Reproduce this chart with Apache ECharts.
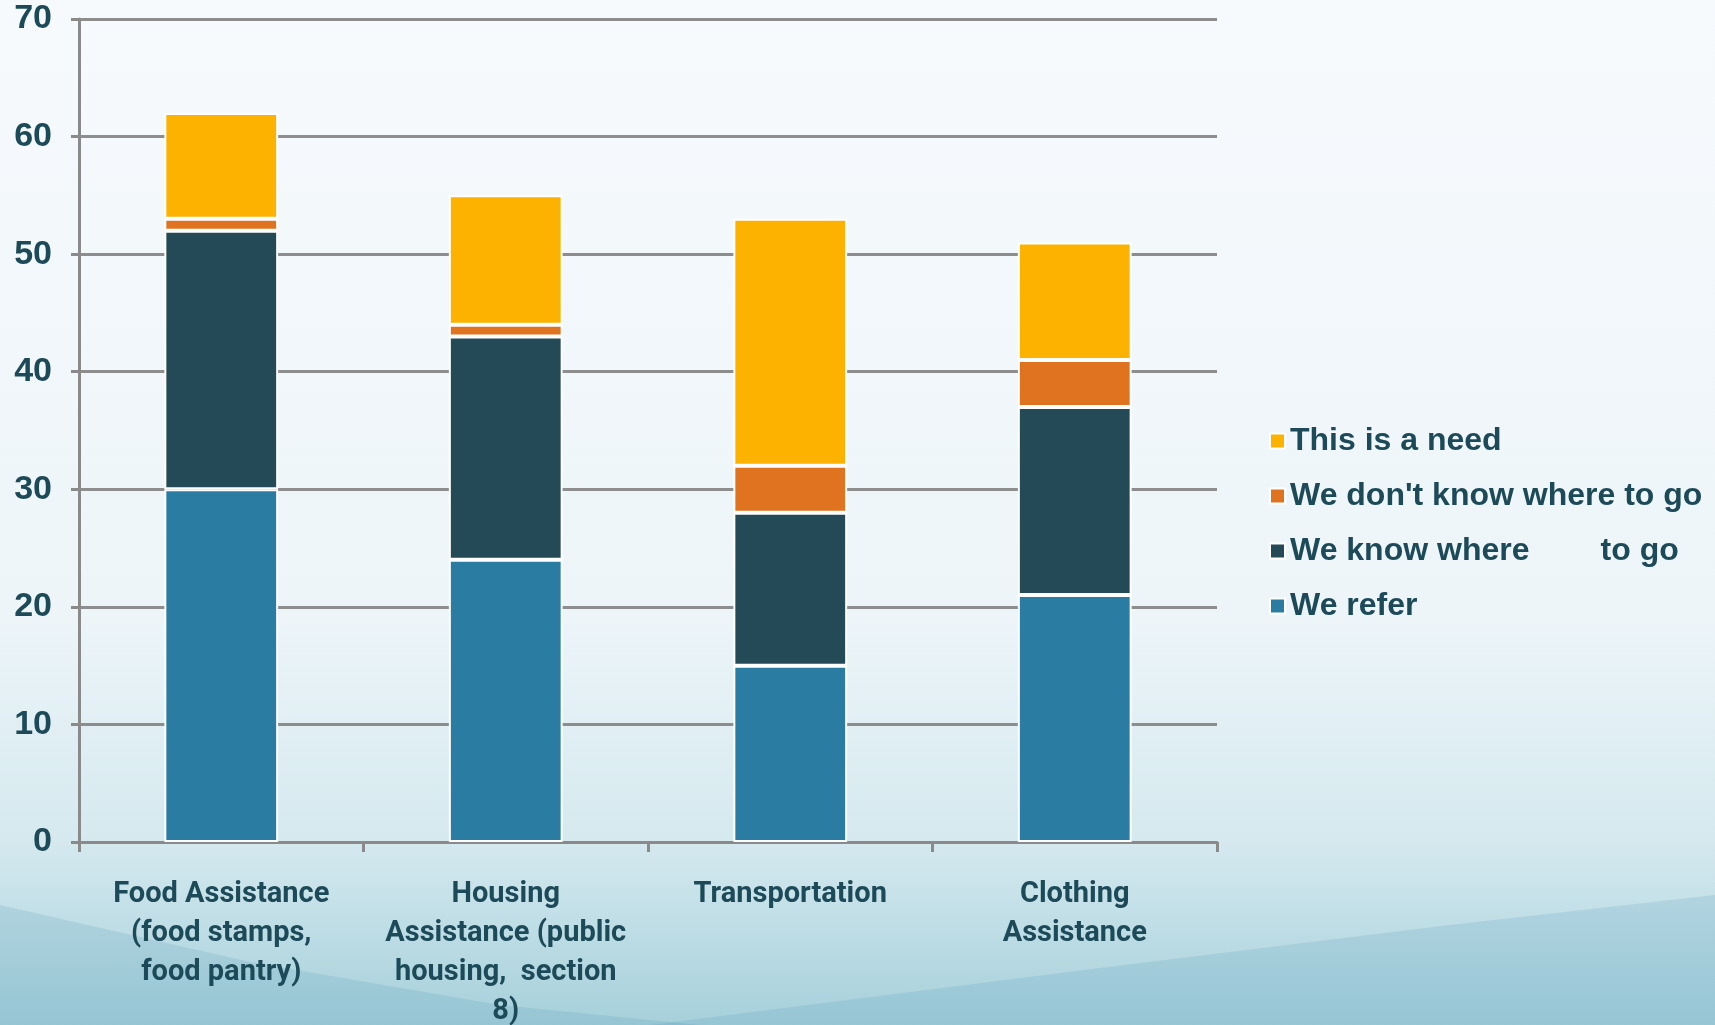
<!DOCTYPE html>
<html lang="en">
<head>
  <meta charset="UTF-8">
  <title>Referral needs</title>
</head>
<style>
  html, body, #main {
    width: 100%;
    height: 100%;
    margin: 0;
  }
</style>
<body>
  <div id="main"></div>
  <script src="https://cdn.jsdelivr.net/npm/echarts@6/dist/echarts.min.js"></script>
  <script type="text/javascript">
    // categories on the x axis
    const categories = [
      'Food Assistance\n(food stamps,\nfood pantry)',
      'Housing\nAssistance (public\nhousing,  section\n8)',
      'Transportation',
      'Clothing\nAssistance'
    ]
    // series values, bottom to top
    const weRefer = [30, 24, 15, 21]
    const weKnow = [22, 19, 13, 16]
    const weDontKnow = [1, 1, 4, 4]
    const isNeed = [9, 11, 21, 10]

    const yTicks = [0, 10, 20, 30, 40, 50, 60, 70]

    const textColor = '#1d4a58'
    const colors = {
      refer: '#2a7ca3',
      know: '#254a57',
      dontKnow: '#e0731f',
      need: '#fdb200'
    }

    const mkSeries = (name, data, color) => ({
      name: name,
      type: 'bar',
      stack: 'all',
      data: data,
      barWidth: '40%',
      itemStyle: {
        color: color,
        borderColor: '#ffffff',
        borderWidth: 2
      },
      emphasis: { disabled: true }
    })

    var myChart = echarts.init(document.getElementById('main'))

    var option = {
      animation: false,
      backgroundColor: {
        type: 'linear',
        x: 0, y: 0, x2: 0, y2: 1,
        colorStops: [
          { offset: 0, color: '#f7fafd' },
          { offset: 0.6, color: '#edf5f9' },
          { offset: 0.82, color: '#d5e9ef' },
          { offset: 1, color: '#a6d0db' }
        ]
      },
      graphic: [
        { // soft wave lower left
          type: 'polygon',
          silent: true,
          z: -10,
          shape: {
            points: [[0, 905], [250, 962], [500, 1005], [700, 1025], [0, 1025]]
          },
          style: { fill: 'rgba(70,140,175,0.16)' }
        },
        { // soft wave lower right
          type: 'polygon',
          silent: true,
          z: -10,
          shape: {
            points: [[650, 1025], [1100, 968], [1450, 925], [1715, 895], [1715, 1025]]
          },
          style: { fill: 'rgba(70,145,180,0.16)' }
        }
      ],
      legend: {
        orient: 'vertical',
        left: 1264,
        top: 420,
        itemWidth: 15,
        itemHeight: 15,
        itemGap: 23,
        icon: 'rect',
        data: ['This is a need', "We don't know where to go", 'We know where        to go', 'We refer'],
        textStyle: {
          color: textColor,
          fontFamily: 'Liberation Sans',
          fontWeight: 'bold',
          fontSize: 32
        }
      },
      grid: {
        left: 79,
        right: 498,
        top: 19,
        bottom: 183,
        containLabel: false,
        outerBoundsMode: 'none'
      },
      xAxis: {
        type: 'category',
        data: categories,
        axisLine: { lineStyle: { color: '#8a8a8a', width: 3 } },
        axisTick: { show: true, length: 10, lineStyle: { color: '#8a8a8a', width: 3 } },
        axisLabel: {
          color: textColor,
          fontFamily: 'Roboto',
          fontWeight: 'bold',
          fontSize: 29,
          lineHeight: 39,
          margin: 33,
          interval: 0,
          verticalAlign: 'top'
        }
      },
      yAxis: {
        type: 'value',
        min: yTicks[0],
        max: yTicks[yTicks.length - 1],
        interval: 10,
        axisLine: { show: true, lineStyle: { color: '#8a8a8a', width: 3 } },
        axisTick: { show: true, length: 8, lineStyle: { color: '#8a8a8a', width: 3 } },
        splitLine: { lineStyle: { color: '#8d8d8d', width: 3 } },
        axisLabel: {
          color: textColor,
          fontFamily: 'Liberation Sans',
          fontWeight: 'bold',
          fontSize: 34,
          margin: 27
        }
      },
      series: [
        mkSeries('We refer', weRefer, colors.refer),
        mkSeries('We know where        to go', weKnow, colors.know),
        mkSeries("We don't know where to go", weDontKnow, colors.dontKnow),
        mkSeries('This is a need', isNeed, colors.need)
      ]
    }

    myChart.setOption(option)
  </script>
</body>
</html>
